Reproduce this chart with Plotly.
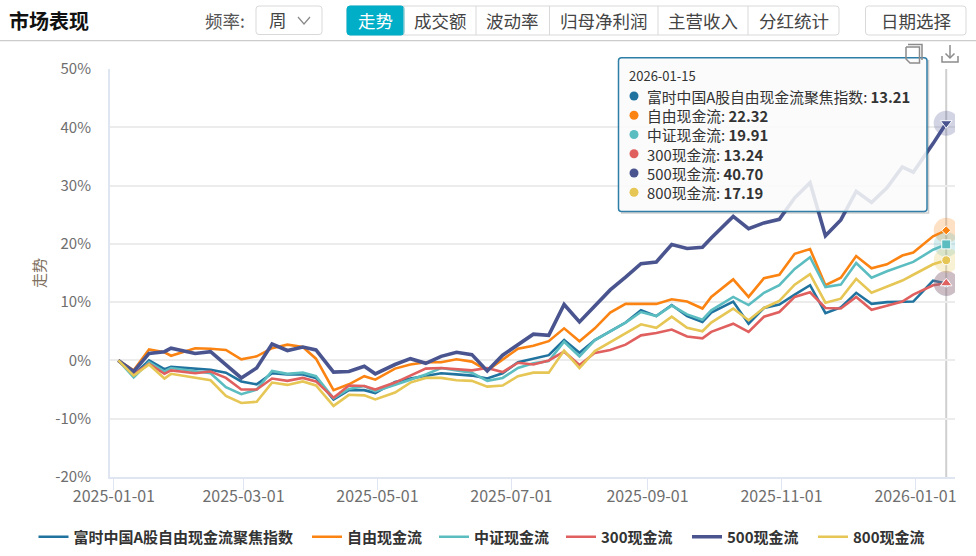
import plotly.graph_objects as go

dates = ["2025-01-03","2025-01-10","2025-01-17","2025-01-24","2025-01-27","2025-02-07","2025-02-14","2025-02-21","2025-02-28",
"2025-03-07","2025-03-14","2025-03-21","2025-03-28","2025-04-03","2025-04-11","2025-04-18","2025-04-25","2025-04-30",
"2025-05-09","2025-05-16","2025-05-23","2025-05-30","2025-06-06","2025-06-13","2025-06-20","2025-06-27",
"2025-07-04","2025-07-11","2025-07-18","2025-07-25","2025-08-01","2025-08-08","2025-08-15","2025-08-22","2025-08-29",
"2025-09-05","2025-09-12","2025-09-19","2025-09-26","2025-09-30","2025-10-10","2025-10-17","2025-10-24","2025-10-31",
"2025-11-07","2025-11-14","2025-11-21","2025-11-28","2025-12-05","2025-12-12","2025-12-19","2025-12-26","2025-12-31",
"2026-01-09","2026-01-15"]

ftse = [0,-2.5,0,-1.5,-1.1,-1.4,-1.6,-2.1,-3.6,-4.1,-2.2,-2.4,-2.4,-3.0,-6.7,-5.1,-5.1,-5.6,
        -3.7,-3.1,-2.7,-2.2,-2.4,-2.6,-3.1,-2.2,-0.3,0.3,0.9,3.5,1.3,3.5,5.0,6.5,8.6,7.6,9.5,7.6,
        6.6,8.2,10.1,6.3,9.0,9.6,11.3,12.9,8.1,9.1,11.6,9.7,10.0,10.1,10.1,13.7,13.21]
free = [0,-1.7,1.9,1.4,0.8,2.1,2.0,1.8,0.2,0.7,2.1,2.7,2.3,0.3,-5.1,-4.1,-2.7,-3.3,
        -1.4,-0.7,-0.3,-0.3,0.2,-0.2,-1.7,0.2,2.0,2.5,3.3,5.5,3.3,5.5,8.2,9.7,9.7,9.7,10.5,10.1,
        8.9,10.9,13.9,10.9,14.1,14.7,18.3,19.1,12.9,14.2,17.9,15.8,16.5,18.0,18.5,21.3,22.32]
csi = [0,-2.9,-0.3,-1.9,-1.3,-1.8,-2.2,-4.6,-5.8,-5.0,-1.8,-2.3,-2.1,-2.7,-6.5,-4.9,-4.4,-5.3,
       -4.1,-3.3,-2.4,-1.3,-1.7,-2.1,-3.5,-3.0,-1.3,-0.5,-0.1,3.2,0.7,3.5,5.0,6.5,8.3,7.6,9.4,7.9,
       7.0,8.6,10.9,9.5,11.6,12.9,15.7,17.7,12.6,13.0,16.7,14.2,15.3,16.3,16.9,19.0,19.91]
c300 = [0,-2.4,-0.6,-2.3,-1.7,-2.2,-1.9,-3.0,-5.0,-5.0,-3.1,-3.5,-3.0,-3.6,-6.4,-4.3,-4.4,-5.0,
        -3.8,-2.6,-1.4,-1.3,-1.5,-1.7,-1.3,-2.0,-0.4,-0.7,0,1.5,-0.8,1.3,1.8,2.7,4.3,4.7,5.3,4.1,
        3.8,4.9,6.3,4.9,7.5,8.3,10.9,11.7,9.0,8.9,10.9,8.7,9.4,10.1,11.3,12.9,13.24]
c500 = [0,-1.9,1.2,1.5,2.1,1.2,1.5,-0.7,-3.0,-1.3,2.8,1.7,2.3,1.8,-2.0,-1.9,-1.0,-2.3,
        -0.7,0.3,-0.5,0.7,1.4,1.0,-1.8,0.9,2.7,4.5,4.3,9.6,6.6,9.4,12.1,14.3,16.6,16.9,19.9,19.2,
        19.4,21.0,24.7,22.6,23.6,24.2,27.9,30.5,21.4,24.1,29.0,27.1,29.6,33.2,32.3,37.2,40.70]
c800 = [0,-2.6,-0.7,-3.1,-2.3,-3.0,-3.4,-6.1,-7.3,-7.1,-3.8,-4.2,-3.6,-4.3,-7.8,-5.9,-6.0,-6.7,
        -5.5,-3.8,-3.0,-3.0,-3.4,-3.5,-4.5,-4.3,-2.7,-2.1,-2.1,1.7,-1.3,1.6,3.1,4.6,6.2,5.6,7.5,5.6,
        5.0,6.5,8.9,6.9,9.0,10.2,13.0,14.8,9.9,10.6,14.0,11.6,12.6,13.7,14.7,16.5,17.19]

names = ["富时中国A股自由现金流聚焦指数","自由现金流","中证现金流","300现金流","500现金流","800现金流"]
values = [ftse, free, csi, c300, c500, c800]
colors = ["#21739f","#fb8312","#5cbdc1","#e0605f","#4a5590","#e6c655"]
symbols = ["circle","diamond","square","triangle-up","triangle-down","circle"]
widths = [2.6,2.6,2.6,2.6,3.6,2.6]
marker_sizes = [7,7,9,10,10,9]
y_ticks = [-20,-10,0,10,20,30,40,50]
y_labels = ["-20%","-10%","0%","10%","20%","30%","40%","50%"]
x_ticks = ["2025-01-01","2025-03-01","2025-05-01","2025-07-01","2025-09-01","2025-11-01","2026-01-01"]
legend_text_x = [73.5, 347, 474, 601, 727, 853]

W, H = 976, 556
L, R, T, B = 110, 955, 69, 477
FONT = "Noto Sans CJK SC"

def fx(x): return (x - L) / (R - L)
def fy(y): return (B - y) / (B - T)

fig = go.Figure()
for i, (name, v, c, w) in enumerate(zip(names, values, colors, widths)):
    fig.add_trace(go.Scatter(x=dates, y=v, name=name, mode="lines",
                             line=dict(color=c, width=w),
                             legend="legend" if i == 0 else f"legend{i+1}"))
for v, c in zip(values, colors):
    fig.add_trace(go.Scatter(x=dates[-1:], y=v[-1:], mode="markers", showlegend=False,
                             marker=dict(color=c, size=25, opacity=0.25, line=dict(width=0))))
for v, c, s, m in zip(values, colors, symbols, marker_sizes):
    fig.add_trace(go.Scatter(x=dates[-1:], y=v[-1:], mode="markers", showlegend=False,
                             marker=dict(color=c, size=m, symbol=s, line=dict(color="white", width=1))))

shapes, annos = [], []

def text(x, y, t, size=15, color="#333", anchor="left"):
    annos.append(dict(xref="paper", yref="paper", x=fx(x), y=fy(y), text=t, showarrow=False,
                      xanchor=anchor, yanchor="middle", borderpad=0, align=anchor,
                      font=dict(family=FONT, size=size, color=color)))

def rrect(x0, y0, x1, y1, r, fill, line, lw=1):
    p = (f"M{fx(x0+r)},{fy(y0)} L{fx(x1-r)},{fy(y0)} Q{fx(x1)},{fy(y0)} {fx(x1)},{fy(y0+r)} "
         f"L{fx(x1)},{fy(y1-r)} Q{fx(x1)},{fy(y1)} {fx(x1-r)},{fy(y1)} L{fx(x0+r)},{fy(y1)} "
         f"Q{fx(x0)},{fy(y1)} {fx(x0)},{fy(y1-r)} L{fx(x0)},{fy(y0+r)} Q{fx(x0)},{fy(y0)} {fx(x0+r)},{fy(y0)} Z")
    shapes.append(dict(type="path", xref="paper", yref="paper", path=p, fillcolor=fill,
                       line=dict(color=line, width=lw), layer="above"))

def seg(pts, color, lw=1.2):
    p = "M" + " L".join(f"{fx(a)},{fy(b)}" for a, b in pts)
    shapes.append(dict(type="path", xref="paper", yref="paper", path=p,
                       line=dict(color=color, width=lw), layer="above"))

# crosshair at the last date
shapes.append(dict(type="line", xref="x", yref="paper", x0=dates[-1], x1=dates[-1], y0=0, y1=1,
                   line=dict(color="#cfcfcf", width=2), layer="below"))

# header
text(8, 21, "<b>市场表现</b>", 20, "#111")
text(203.5, 21, "频率:", 17.5, "#555")
rrect(256, 6, 322, 34.5, 3, "white", "#d9d9d9")
text(267.5, 20, "周", 17.5, "#444")
seg([(298, 17), (304, 24), (310, 17)], "#888")
rrect(347, 6, 839, 35, 3, "white", "#d9d9d9")
rrect(347, 6, 404, 35, 3, "#00aec7", "#00aec7")
tabs = ["走势","成交额","波动率","归母净利润","主营收入","分红统计"]
edges = [347, 404, 476, 549.5, 658, 748, 839]
for i, t in enumerate(tabs):
    text((edges[i] + edges[i+1]) / 2, 20.5, t, 17.5, "white" if i == 0 else "#444", anchor="center")
    if i:
        seg([(edges[i], 6), (edges[i], 35)], "#d9d9d9", 1)
rrect(865.5, 6, 966, 35, 3, "white", "#d9d9d9")
text(916, 20.5, "日期选择", 17.5, "#444", anchor="center")
seg([(0, 40.7), (976, 40.7)], "#cccccc", 1.2)

# tooltip
rrect(618.5, 57.7, 927, 211.5, 3, "rgba(250,250,250,0.86)", "#2f7ea8", 1.5)
seg([(928.5, 60), (928.5, 213), (621, 213)], "rgba(60,60,60,0.25)", 1.5)
TIP_SIZE = 14.8
row_h = TIP_SIZE * 1.3
first_row = 96.0
text(628, 75.5, dates[-1], 13, "#333")
rows = []
for k, (name, v, c) in enumerate(zip(names, values, colors)):
    y = first_row + row_h * k
    shapes.append(dict(type="circle", xref="paper", yref="paper", fillcolor=c, line=dict(width=0),
                       x0=fx(629.5), x1=fx(638.5), y0=fy(y + 4.5), y1=fy(y - 4.5), layer="above"))
    rows.append(f"{name}: <b>{v[-1]:.2f}</b>")
annos.append(dict(xref="paper", yref="paper", x=fx(645.5), y=fy(first_row - row_h * 0.58), text="<br>".join(rows),
                  showarrow=False, xanchor="left", yanchor="top", align="left", borderpad=0,
                  font=dict(family=FONT, size=TIP_SIZE, color="#333")))

# toolbox icons
seg([(908, 44.5), (922, 44.5), (922, 60)], "#8c8c8c", 1.5)
seg([(906, 47), (919.5, 47), (919.5, 63), (910, 63), (906, 59), (906, 47)], "#8c8c8c", 1.5)
seg([(942, 56), (942, 62), (958, 62), (958, 56)], "#8c8c8c", 1.5)
seg([(950, 45), (950, 58)], "#8c8c8c", 1.5)
seg([(945.5, 53.5), (950, 58), (954.5, 53.5)], "#8c8c8c", 1.5)

legends = {}
for i, tx in enumerate(legend_text_x):
    key = "legend" if i == 0 else f"legend{i+1}"
    legends[key] = dict(orientation="h", xref="container", yref="container",
                        x=(tx - 40) / W, xanchor="left", y=(H - 537) / H, yanchor="middle",
                        font=dict(family=FONT, size=15, color="#333", weight="bold"),
                        bgcolor="rgba(0,0,0,0)", borderwidth=0)

fig.update_layout(
    width=W, height=H, margin=dict(l=L, r=W-R, t=T, b=H-B, autoexpand=False),
    paper_bgcolor="white", plot_bgcolor="white",
    font=dict(family=FONT, color="#6e6e6e", size=15),
    shapes=shapes, annotations=annos,
    xaxis=dict(type="date", range=["2024-12-30 05:00", "2026-01-19"], tickformat="%Y-%m-%d",
               tickvals=x_ticks,
               ticks="outside", ticklen=11, tickcolor="#e0e6f1", tickwidth=1, ticklabelstandoff=-7,
               showgrid=False, showline=True, linecolor="#e0e6f1", linewidth=2,
               tickfont=dict(family=FONT, size=16, color="#6e6e6e")),
    yaxis=dict(range=[-20, 50], tickvals=y_ticks, ticktext=y_labels,
               showgrid=True, gridcolor="#ececec", gridwidth=1.5, zeroline=False,
               showline=True, linecolor="#e0e6f1", linewidth=2, ticks="", ticklabelstandoff=14,
               title=dict(text="走势", standoff=6, font=dict(family=FONT, size=15, color="#7f6f60")),
               tickfont=dict(family=FONT, size=15, color="#6e6e6e")),
    hovermode=False,
    **legends,
)
fig.write_html("out.html", config=dict(displayModeBar=False),
               post_script="document.body.style.margin='0';")
